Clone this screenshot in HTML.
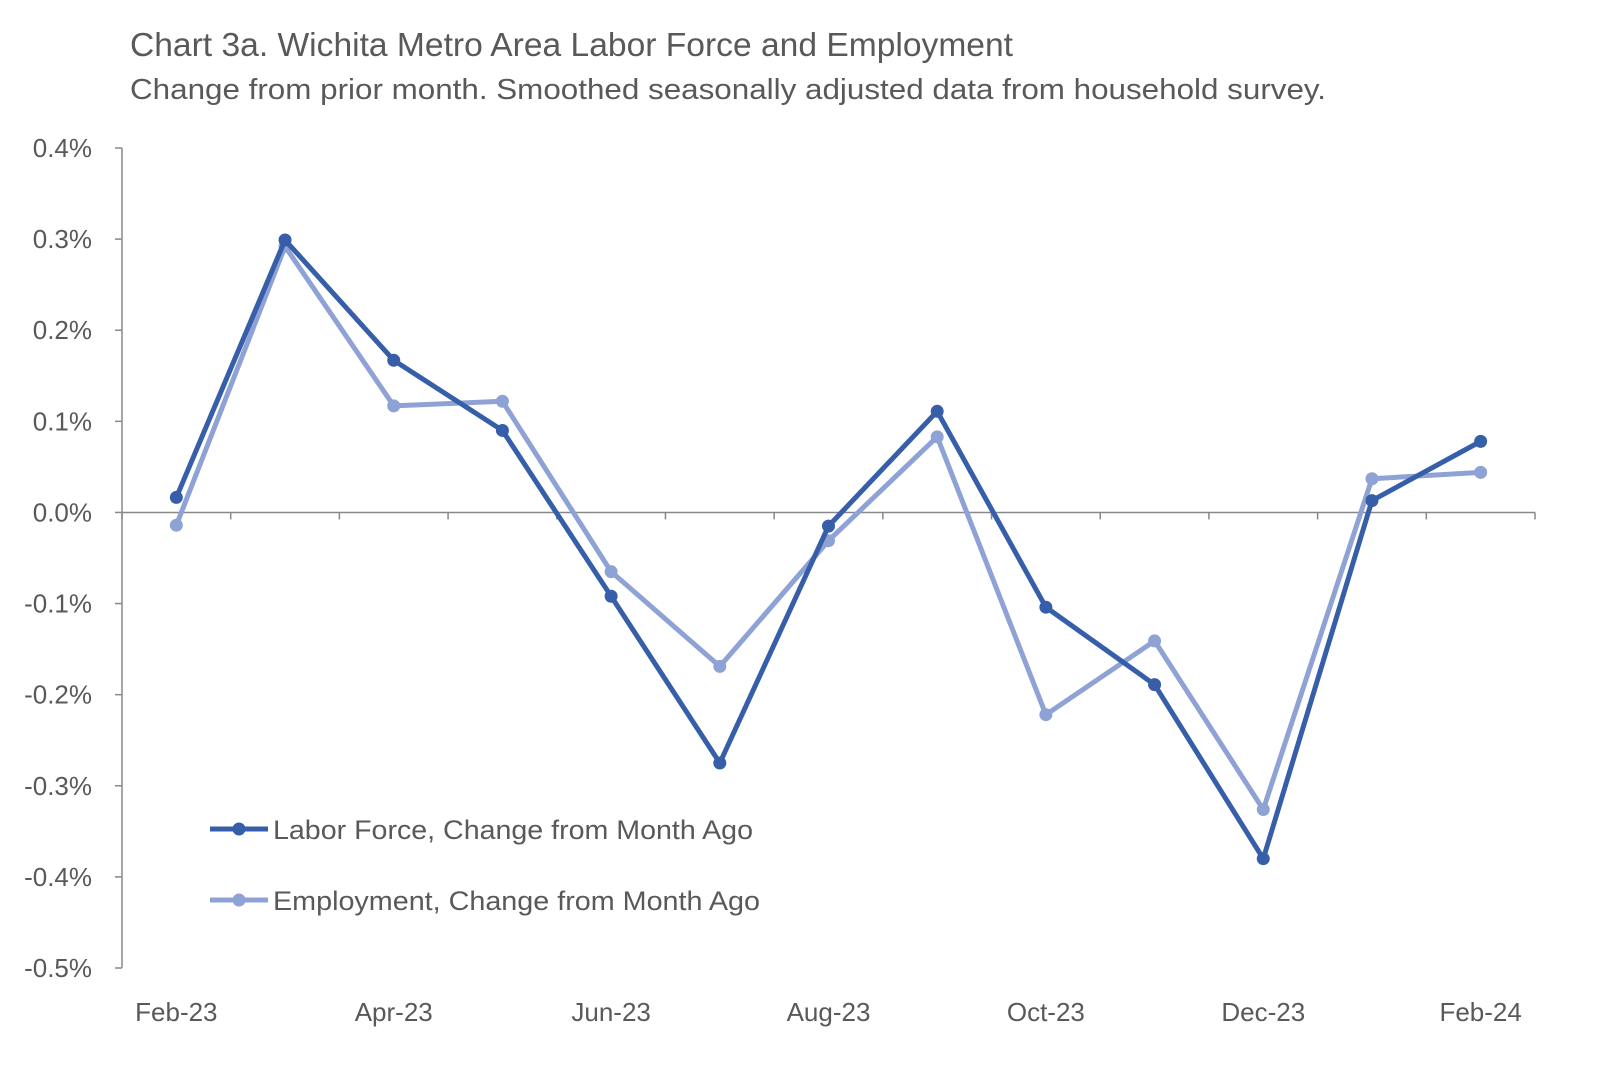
<!DOCTYPE html>
<html><head><meta charset="utf-8"><style>
body{margin:0;background:#fff;}
svg text{font-family:"Liberation Sans Narrow","Liberation Sans",sans-serif;fill:#595959;}
</style></head><body>
<svg id="chart" width="1600" height="1068" viewBox="0 0 1600 1068" xmlns="http://www.w3.org/2000/svg">
<text x="130" y="56" font-size="33" textLength="883" lengthAdjust="spacingAndGlyphs">Chart 3a. Wichita Metro Area Labor Force and Employment</text>
<text x="130" y="99" font-size="29" textLength="1196" lengthAdjust="spacingAndGlyphs">Change from prior month. Smoothed seasonally adjusted data from household survey.</text>
<g id="axes"></g><g id="series"></g>
<g>
<line x1="210" y1="829" x2="268" y2="829" stroke="#365ea9" stroke-width="5"/><circle cx="239" cy="829" r="6.5" fill="#365ea9"/>
<text x="273" y="839" font-size="27" textLength="480" lengthAdjust="spacingAndGlyphs">Labor Force, Change from Month Ago</text>
<line x1="210" y1="900" x2="268" y2="900" stroke="#8fa2d5" stroke-width="5"/><circle cx="239" cy="900" r="6.5" fill="#8fa2d5"/>
<text x="273" y="910" font-size="27" textLength="487" lengthAdjust="spacingAndGlyphs">Employment, Change from Month Ago</text>
</g>
</svg>
<script>
const categories=["Feb-23","Mar-23","Apr-23","May-23","Jun-23","Jul-23","Aug-23","Sep-23","Oct-23","Nov-23","Dec-23","Jan-24","Feb-24"];
const laborForce=[0.0165,0.299,0.167,0.090,-0.092,-0.275,-0.015,0.111,-0.104,-0.189,-0.380,0.013,0.078];
const employment=[-0.014,0.292,0.117,0.122,-0.065,-0.169,-0.031,0.083,-0.222,-0.141,-0.326,0.037,0.044];
const yTicks=[0.4,0.3,0.2,0.1,0,-0.1,-0.2,-0.3,-0.4,-0.5];
const yTickLabels=["0.4%","0.3%","0.2%","0.1%","0.0%","-0.1%","-0.2%","-0.3%","-0.4%","-0.5%"];
const NS="http://www.w3.org/2000/svg";
const x0=122,x1=1535,yTop=148,yBot=968;
const step=(x1-x0)/categories.length;
const x=i=>x0+step*(i+0.5);
const y=v=>yTop+(0.4-v)/0.9*(yBot-yTop);
function mk(tag,attrs,parent){const e=document.createElementNS(NS,tag);for(const k in attrs)e.setAttribute(k,attrs[k]);parent.appendChild(e);return e;}
const axes=document.getElementById('axes');
const ya=mk('line',{x1:x0,y1:yTop,x2:x0,y2:yBot,stroke:'#888','stroke-width':1.5},axes);


yTicks.forEach((v,i)=>{
  mk('line',{x1:x0-7,y1:y(v),x2:x0,y2:y(v),stroke:'#888','stroke-width':1.5},axes);
  const t=mk('text',{x:92,y:y(v)+9,'font-size':26,'text-anchor':'end'},axes);
  t.textContent=yTickLabels[i];
  
  
});
const xa=mk('line',{x1:x0,y1:y(0),x2:x1,y2:y(0),stroke:'#888','stroke-width':1.5},axes);


for(let i=0;i<=categories.length;i++){mk('line',{x1:x0+step*i,y1:y(0),x2:x0+step*i,y2:y(0)+7,stroke:'#888','stroke-width':1.5},axes);}
categories.forEach((c,i)=>{if(i%2)return;
  const t=mk('text',{x:x(i),y:1021,'font-size':26,'text-anchor':'middle'},axes);
  t.textContent=c;
  
  
});
const ser=document.getElementById('series');
function draw(vals,color,name){
  const p=mk('polyline',{points:vals.map((v,i)=>x(i)+','+y(v)).join(' '),fill:'none',stroke:color,'stroke-width':5,'stroke-linejoin':'round'},ser);
  
  
  vals.forEach((v,i)=>{const c=mk('circle',{cx:x(i),cy:y(v),r:6.5,fill:color},ser);
    
    });
}
draw(employment,'#8fa2d5','employment');
draw(laborForce,'#365ea9','labor-force');
</script>
</body></html>
